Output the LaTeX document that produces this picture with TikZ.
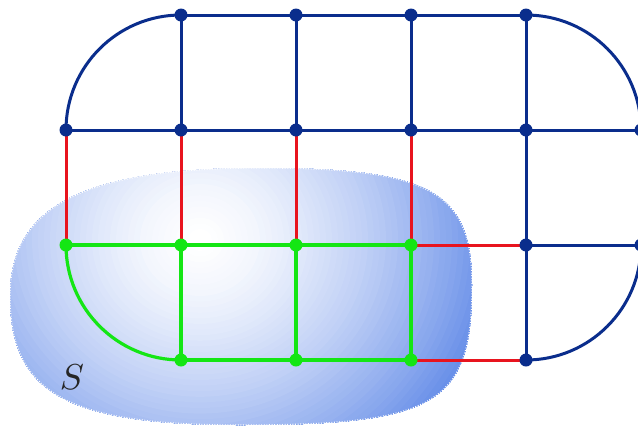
\documentclass[tikz,border=0pt]{standalone}
\definecolor{gblue}{RGB}{10,45,140}
\definecolor{gred}{RGB}{232,20,30}
\definecolor{ggreen}{RGB}{20,230,20}
\definecolor{blobblue}{RGB}{100,140,232}
\pgfdeclarelayer{blob}
\pgfdeclarelayer{edges}
\pgfsetlayers{blob,edges,main}
\def\blobpath{(10,296) .. controls (10,206) and (85,168) .. (260,168) .. controls (430,168) and (472,191) .. (472,285) .. controls (472,404) and (437,425) .. (240,425) .. controls (67,425) and (10,393) .. (10,296) -- cycle}
\begin{document}
\begin{tikzpicture}[x=1pt,y=-1pt,
  vb/.style={circle,fill=gblue,inner sep=0pt,minimum size=13pt},
  vg/.style={circle,fill=ggreen,inner sep=0pt,minimum size=13pt},
  eb/.style={draw=gblue,line width=3pt},
  er/.style={draw=gred,line width=3pt},
  eg/.style={draw=ggreen,line width=3.2pt}]
\useasboundingbox (0,0) rectangle (638,429);
% blob
\begin{pgfonlayer}{blob}
\begin{scope}
\clip \blobpath;
\foreach \i in {64,...,1}{
  \pgfmathtruncatemacro\p{min(100,100*(\i/50)^1.5)}
  \pgfmathsetmacro\rx{6*\i}
  \pgfmathsetmacro\ry{5.6*\i}
  \fill[blobblue!\p!white] (200,240) ellipse [x radius=\rx pt, y radius=\ry pt];
}
\end{scope}
\draw[white, line width=1.2pt, dash pattern=on 1pt off 1.6pt] \blobpath;
\end{pgfonlayer}
% nodes
\node[vb] (a2) at (181,15) {};
\node[vb] (a3) at (296,15) {};
\node[vb] (a4) at (411,15) {};
\node[vb] (a5) at (526,15) {};
\node[vb] (b1) at (66,130) {};
\node[vb] (b2) at (181,130) {};
\node[vb] (b3) at (296,130) {};
\node[vb] (b4) at (411,130) {};
\node[vb] (b5) at (526,130) {};
\node[vb] (b6) at (641,130) {};
\node[vg] (c1) at (66,245) {};
\node[vg] (c2) at (181,245) {};
\node[vg] (c3) at (296,245) {};
\node[vg] (c4) at (411,245) {};
\node[vb] (c5) at (526,245) {};
\node[vb] (c6) at (641,245) {};
\node[vg] (d2) at (181,360) {};
\node[vg] (d3) at (296,360) {};
\node[vg] (d4) at (411,360) {};
\node[vb] (d5) at (526,360) {};
\node[scale=3.6, text=black!85] (S) at (72,377) {$S$};
% edges
\begin{pgfonlayer}{edges}
\path[eb] (b1.center) arc[start angle=180, end angle=90, radius=115pt];
\path[eb] (a2.center) -- (a3.center) -- (a4.center) -- (a5.center);
\path[eb] (a5.center) arc[start angle=90, end angle=0, radius=115pt];
\path[eb] (a2.center) -- (b2.center);
\path[eb] (a3.center) -- (b3.center);
\path[eb] (a4.center) -- (b4.center);
\path[eb] (a5.center) -- (b5.center);
\path[eb] (b1.center) -- (b2.center) -- (b3.center) -- (b4.center) -- (b5.center) -- (b6.center);
\path[eb] (b5.center) -- (c5.center);
\path[eb] (b6.center) -- (c6.center);
\path[eb] (c5.center) -- (c6.center);
\path[eb] (c5.center) -- (d5.center);
\path[eb] (c6.center) arc[start angle=0, end angle=-90, radius=115pt];
\path[er] (b1.center) -- (c1.center);
\path[er] (b2.center) -- (c2.center);
\path[er] (b3.center) -- (c3.center);
\path[er] (b4.center) -- (c4.center);
\path[er] (c4.center) -- (c5.center);
\path[er] (d4.center) -- (d5.center);
\path[eg] (c1.center) -- (c2.center) -- (c3.center) -- (c4.center);
\path[eg] (c2.center) -- (d2.center);
\path[eg] (c3.center) -- (d3.center);
\path[eg] (c4.center) -- (d4.center);
\path[eg] (d2.center) -- (d3.center) -- (d4.center);
\path[eg] (c1.center) arc[start angle=180, end angle=270, radius=115pt];
\end{pgfonlayer}
\end{tikzpicture}
\end{document}
